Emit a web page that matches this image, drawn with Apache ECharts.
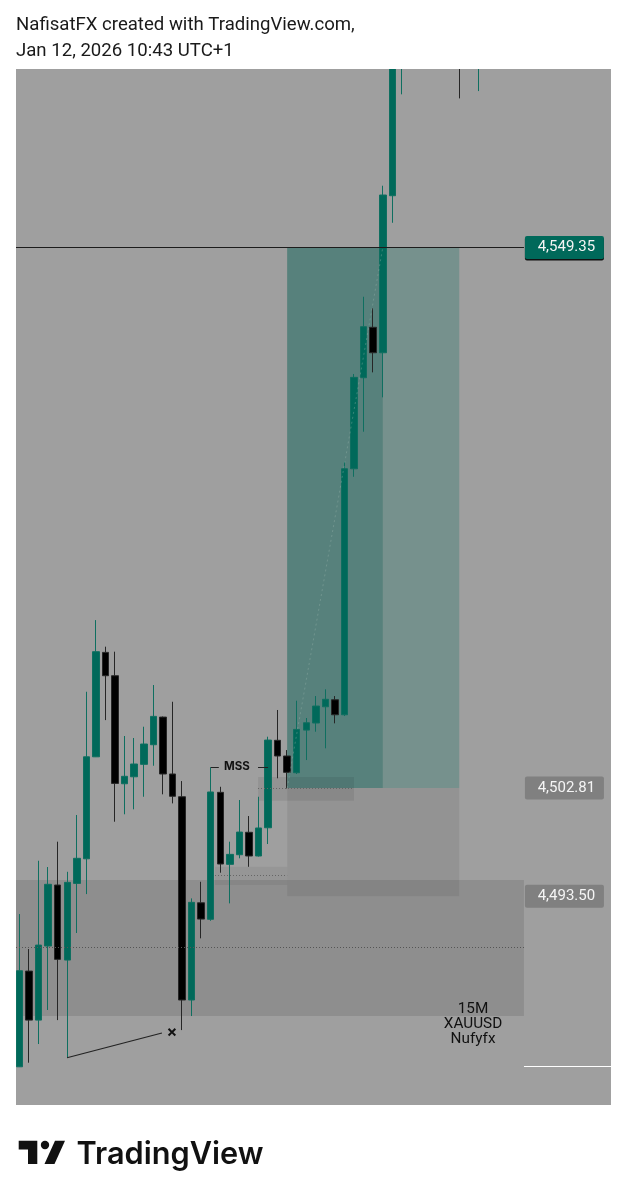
<!DOCTYPE html>
<html>
<head>
<meta charset="utf-8">
<style>html,body{margin:0;padding:0;background:#fff}#chart{width:627px;height:1200px}</style>
<script src="https://cdn.jsdelivr.net/npm/echarts@6/dist/echarts.min.js"></script>
</head>
<body>
<div id="chart"></div>
<script>
// XAUUSD 15M candles. Bars 41-45 and 47 sit entirely above the visible price range.
const opens = [4478.81,4487.05,4482.83,4489.21,4494.46,4488.00,4494.60,4496.72,4505.50,4514.49,4512.48,4503.18,4503.78,4504.85,4506.54,4508.92,4504.02,4502.06,4484.56,4492.93,4491.51,4502.44,4496.24,4497.07,4499.00,4496.96,4499.39,4506.92,4505.57,4504.13,4507.80,4508.41,4509.81,4510.41,4509.12,4530.30,4538.14,4542.48,4540.29,4553.81,4566.90,null,null,null,null,null,4567.00,null,4566.00];
const closes = [4487.08,4482.83,4489.29,4494.52,4488.06,4494.69,4496.76,4505.50,4514.55,4512.48,4503.21,4503.82,4504.88,4506.60,4508.98,4504.02,4502.10,4484.56,4492.97,4491.53,4502.47,4496.27,4497.10,4499.02,4496.96,4499.37,4506.94,4505.57,4504.16,4507.86,4508.43,4509.87,4510.45,4509.12,4530.30,4538.17,4542.53,4540.29,4553.87,4569.50,4572.00,null,null,null,null,null,4565.50,null,4568.00];
const lows = [4478.79,4479.16,4480.77,4483.70,4482.83,4479.59,4490.33,4493.68,4505.48,4508.66,4499.91,4500.55,4500.98,4502.06,4504.73,4502.27,4501.49,4481.97,4483.18,4489.87,4491.38,4495.52,4492.88,4496.76,4496.03,4496.91,4497.99,4503.65,4502.78,4504.02,4505.22,4507.66,4506.23,4508.38,4509.01,4529.61,4533.49,4538.60,4536.45,4551.48,4562.54,null,null,null,null,null,4562.19,null,4562.82];
const highs = [4491.96,4488.95,4496.55,4496.01,4498.19,4495.60,4500.49,4511.10,4517.27,4514.98,4514.55,4507.29,4507.12,4508.09,4511.68,4508.97,4510.24,4503.41,4493.31,4494.74,4504.59,4502.92,4498.19,4501.78,4500.40,4502.06,4507.23,4509.53,4506.08,4510.33,4508.84,4510.73,4511.31,4510.73,4530.90,4538.46,4545.11,4544.11,4554.67,4571.00,4573.00,null,null,null,null,null,4568.00,null,4569.00];

// Price levels shown as tags on the right
const targetPrice = 4549.35;
const entryPrice = 4502.81;
const stopPrice = 4493.50;
const targetTag = '4,549.35';
const entryTag = '4,502.81';
const stopTag = '4,493.50';

const barSlots = 63;
const priceMin = 4475.52;
const priceMax = 4564.72;

const GREEN = '#00695a';
const DARK = '#000000';
const TAG_SHAPE = 'path://M2 0H77Q79 0 79 2V21Q79 23 77 23H2Q0 23 0 21V2Q0 0 2 0Z';

const candles = opens.map((o, i) =>
  o === null ? ['-', '-', '-', '-'] : [o, closes[i], lows[i], highs[i]]);

const chart = echarts.init(document.getElementById('chart'), null, { renderer: 'canvas' });

const area = (x0, x1, y0, y1, fill) => [
  { xAxis: x0, yAxis: y1, itemStyle: { color: fill } },
  { xAxis: x1, yAxis: y0 }
];
const seg = (x0, y0, x1, y1, lineStyle) => [
  { coord: [x0, y0], lineStyle },
  { coord: [x1, y1] }
];
const tag = (value, text, fill, extra) => ({
  coord: [57, value],
  symbol: TAG_SHAPE,
  symbolSize: [79, 23],
  itemStyle: Object.assign({ color: fill }, extra || {}),
  label: { show: true, formatter: text, color: '#f4f4f4', fontSize: 15, fontFamily: 'Roboto', offset: [2, 0] }
});
const note = (x, y, text, label) => ({
  coord: [x, y],
  symbol: 'circle',
  symbolSize: 0,
  label: Object.assign({ show: true, position: 'inside', formatter: text, color: '#111' }, label)
});

chart.setOption({
  animation: false,
  backgroundColor: '#ffffff',
  title: {
    left: 16, top: 13, padding: 0, z: 8,
    text: 'NafisatFX created with TradingView.com,\nJan 12, 2026 10:43 UTC+1',
    textStyle: { fontFamily: 'Roboto', fontSize: 18.6, fontWeight: 400, color: '#1a1a1a', lineHeight: 25.5 }
  },
  grid: { left: 14.72, width: 602.28, top: 69, height: 1036 },
  xAxis: [
    { type: 'category', show: false, data: Array.from({ length: barSlots }, (_, i) => String(i)) },
    { type: 'value', show: false, min: -0.5, max: barSlots - 0.5 }
  ],
  yAxis: { type: 'value', show: false, min: priceMin, max: priceMax, scale: true },
  series: [
    {
      // Chart panel, trade zones, levels and labels, all placed in bar/price space
      type: 'line', xAxisIndex: 1, z: 1, data: [], silent: true,
      markArea: {
        silent: true,
        data: [
          area(-0.366, 61.87, priceMin, priceMax, '#9f9f9f'),
          area(28, 46, entryPrice, targetPrice, 'rgba(0,105,88,0.26)'),
          area(28, 38, entryPrice, targetPrice, 'rgba(0,85,78,0.26)'),
          area(28, 46, stopPrice, entryPrice, 'rgba(0,0,0,0.07)'),
          area(-0.366, 52.77, 4483.18, 4494.89, 'rgba(0,0,0,0.1)'),
          area(24.95, 34.99, 4501.72, 4503.76, 'rgba(0,0,0,0.07)'),
          area(20.45, 28, 4494.46, 4496.03, 'rgba(0,0,0,0.05)')
        ]
      },
      markLine: {
        silent: true, symbol: 'none', label: { show: false },
        data: [
          seg(-0.366, targetPrice, 52.77, targetPrice, { color: '#1c1c1c', width: 1, type: 'solid' }),
          seg(-0.366, 4489.08, 52.77, 4489.08, { color: '#555', width: 1, type: [1, 2] }),
          seg(24.95, 4502.78, 34.99, 4502.78, { color: '#666', width: 1, type: [1, 2] }),
          seg(20.45, 4495.26, 28, 4495.26, { color: '#666', width: 1, type: [1, 2] }),
          seg(28, entryPrice, 38, targetPrice, { color: '#9fb8b0', width: 1, type: [2, 3], opacity: 0.35 }),
          seg(4.97, 4479.59, 14.9, 4481.72, { color: '#222', width: 1.2, type: 'solid' }),
          seg(20, 4504.59, 20.85, 4504.59, { color: '#222', width: 1, type: 'solid' }),
          seg(24.95, 4504.59, 26, 4504.59, { color: '#222', width: 1, type: 'solid' }),
          seg(52.77, 4478.87, 61.87, 4478.87, { color: '#ffffff', width: 1, type: 'solid' })
        ]
      },
      markPoint: {
        silent: true,
        data: [
          tag(targetPrice, targetTag, '#00695a', { shadowColor: '#111', shadowOffsetY: 1.5, shadowBlur: 0 }),
          tag(entryPrice, entryTag, '#808080'),
          tag(stopPrice, stopTag, '#808080'),
          note(22.75, 4504.62, 'MSS', { fontFamily: 'Inter', fontSize: 11.5, fontWeight: 700 }),
          note(15.95, 4481.80, '×', { fontFamily: 'Inter', fontSize: 16, fontWeight: 700 }),
          note(47.44, 4482.50, '15M\nXAUUSD\nNufyfx', { fontFamily: 'Roboto', fontSize: 15.3, lineHeight: 15, align: 'center' })
        ]
      }
    },
    {
      type: 'candlestick', z: 3, barWidth: 7, clip: true, silent: true,
      itemStyle: { color: GREEN, color0: DARK, borderColor: '#0f6f60', borderColor0: '#262626', borderWidth: 1 },
      data: candles
    }
  ],
  graphic: [
    // Page margin above the panel: candles running past the top edge stop at the panel
    { type: 'rect', z: 4, shape: { x: 0, y: 0, width: 627, height: 69 }, style: { fill: '#ffffff' } },
    // TradingView mark
    { type: 'polygon', z: 10, shape: { points: [[18.7,1140.7],[37.3,1140.7],[37.3,1164],[28,1164],[28,1149.4],[18.7,1149.4]] }, style: { fill: '#111111' } },
    { type: 'polygon', z: 10, shape: { points: [[55,1140.7],[65,1140.7],[54.5,1164],[44.5,1164]] }, style: { fill: '#111111' } },
    { type: 'circle', z: 10, shape: { cx: 45, cy: 1145, r: 4.2 }, style: { fill: '#111111' } },
    {
      type: 'text', z: 10, x: 76.5, y: 1155,
      style: { text: 'TradingView', fill: '#111111', font: '600 30.7px Inter', verticalAlign: 'middle' }
    }
  ]
});
</script>
</body>
</html>
